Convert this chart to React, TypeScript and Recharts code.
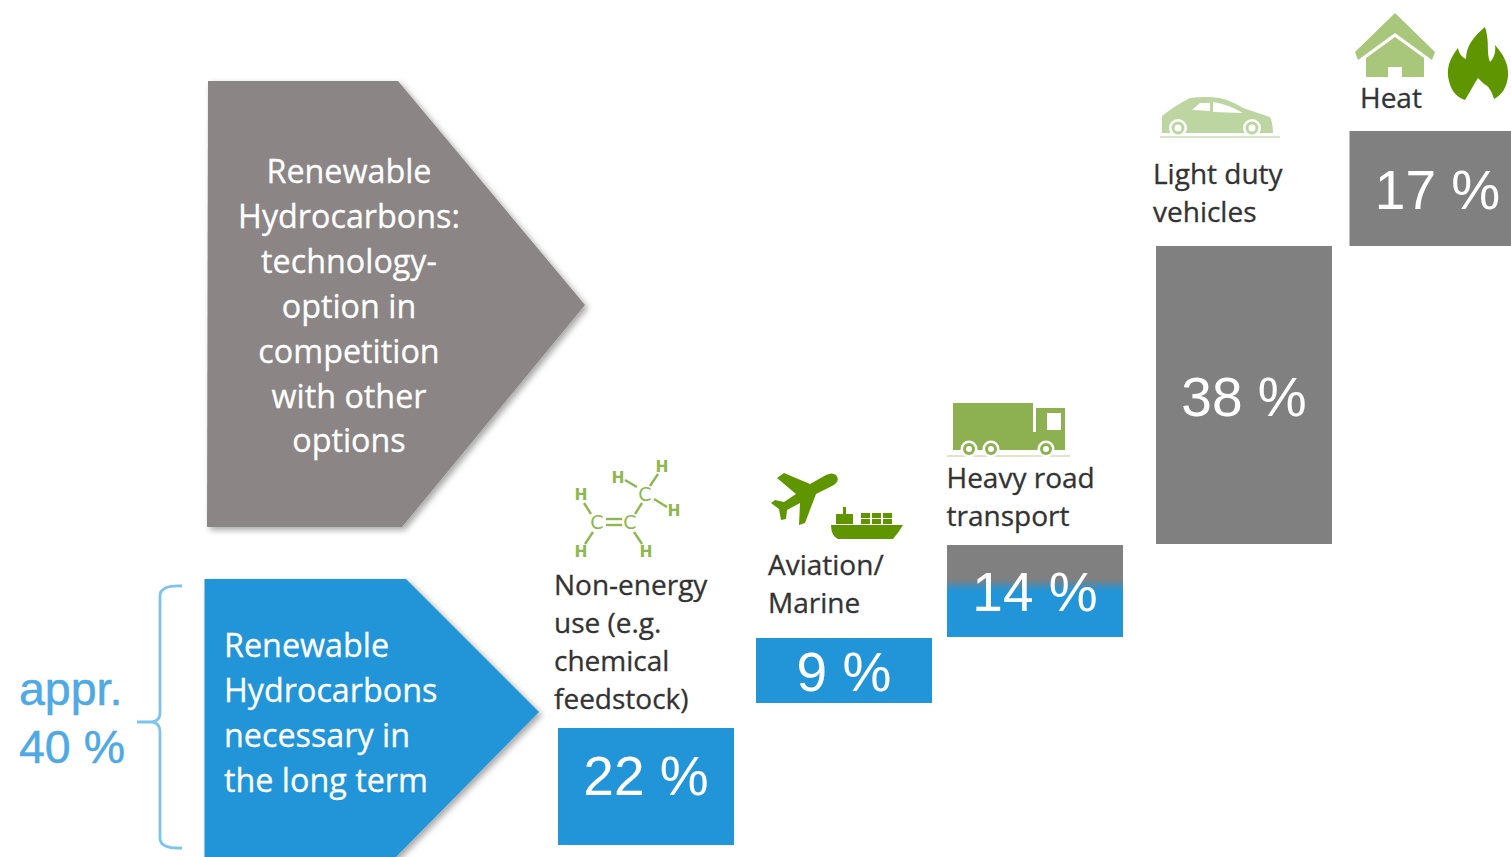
import { Bar, Cell, ComposedChart, LabelList, XAxis, YAxis } from 'recharts';

const categories = ['Non-energy use', 'Aviation/Marine', 'Heavy road transport', 'Light duty vehicles', 'Heat'];
const shares = [22, 9, 14, 38, 17];
// the steps in the source are not drawn to scale, so these are read off the picture
const stepBottom = [12, 154, 220, 313, 611];
const stepTop = [129, 219, 312, 611, 726];
const stepCenter = [645.5, 843.5, 1034.5, 1243.5, 1437];
const stepFill = ['#2295d9', '#2295d9', 'url(#mixedStep)', '#808080', '#808080'];
const labelShift = [8, 20, 20, 21, 20];

const data = categories.map((name, i) => ({
  name,
  center: stepCenter[i],
  range: [stepBottom[i], stepTop[i]],
  label: `${shares[i]} %`,
}));

const sans = '"Open Sans", sans-serif';
const arial = '"Liberation Sans", Arial, sans-serif';

const ShareLabel = (props: any) => {
  const { x, y, width, height, value, index } = props;
  return (
    <text x={x + width / 2} y={y + height / 2 + labelShift[index]} textAnchor="middle" fontFamily={arial} fontSize={55} fill="#fff">
      {value}
    </text>
  );
};

const Lines = ({ x, ys, lines, anchor = 'start', size = 28, fill = '#333' }: any) => (
  <>
    {lines.map((line: string, i: number) => (
      <text key={line} x={x} y={ys + i * (size > 30 ? 44.9 : 38.3)} textAnchor={anchor} fontFamily={sans} fontSize={size} fill={fill} stroke={fill} strokeWidth={0.3}>
        {line}
      </text>
    ))}
  </>
);

const Molecule = () => {
  const green = '#8db84f';
  const bonds = [
    [584, 503, 591, 514], [606, 519, 622, 519], [606, 525, 622, 525], [635, 514, 642, 503],
    [637, 487, 625, 480], [650, 486, 658, 474], [654, 499, 667, 507], [593, 532, 585, 544], [634, 532, 642, 544],
  ];
  const atoms = [
    ['H', 581, 500], ['H', 618, 483], ['H', 662, 472], ['H', 674, 516], ['H', 581, 557], ['H', 646, 557],
  ];
  const carbons = [[645, 501], [597, 529], [630, 529]];
  return (
    <g>
      {bonds.map((b, i) => (
        <line key={i} x1={b[0]} y1={b[1]} x2={b[2]} y2={b[3]} stroke={green} strokeWidth={2.4} />
      ))}
      {atoms.map((a, i) => (
        <text key={i} x={a[1] as number} y={a[2] as number} textAnchor="middle" fontFamily="DejaVu Sans" fontWeight="bold" fontSize={15.5} fill={green}>
          {a[0]}
        </text>
      ))}
      {carbons.map((c, i) => (
        <text key={i} x={c[0]} y={c[1]} textAnchor="middle" fontFamily="DejaVu Sans" fontSize={19} fill={green}>C</text>
      ))}
    </g>
  );
};

const Wheel = ({ cx, cy, color, r }: any) => (
  <g>
    <circle cx={cx} cy={cy} r={r + 2.5} fill="#fff" />
    <circle cx={cx} cy={cy} r={r} fill={color} />
    <circle cx={cx} cy={cy} r={r - 3} fill="#fff" />
  </g>
);

const Icons = () => (
  <g>
    <Molecule />
    {/* plane */}
    <path d="M836 475Q841 481 832 486L816 494 805 523 799 525 800 503 787 510 786 519 781 520 779 509 771 503 775 500 784 502 796 494 777 478 784 473 810 484 826 475Q832 472 836 475Z" fill="#5f9600" />
    {/* ship */}
    <path d="M831 525H903Q899 532 893 539H838Q831 536 831 525ZM836 514H843V507H846V514H853V524H836ZM861 513H870V518H861ZM872 513H881V518H872ZM883 513H892V518H883ZM861 519H870V524H861ZM872 519H881V524H872ZM883 519H892V524H883Z" fill="#5f9600" />
    {/* truck */}
    <path d="M953 403H1033V432H1036V408H1065V450H953Z" fill="#8db150" />
    <rect x={1047} y={413} width={14} height={17} fill="#fff" />
    <rect x={947} y={455} width={123} height={2} fill="#dbe8c6" />
    {[969, 991, 1046].map((cx) => (
      <Wheel key={cx} cx={cx} cy={449} r={6} color="#8db150" />
    ))}
    {/* car */}
    <path d="M1162 116Q1176 105 1190 98Q1205 96 1220 98Q1232 101 1243 108L1270 117Q1273 124 1273 133H1162Z" fill="#bdd6a1" />
    <path d="M1192 110L1200 103H1210V111ZM1213 102Q1230 105 1243 113L1213 112Z" fill="#fff" />
    {[1178, 1252].map((cx) => (
      <Wheel key={cx} cx={cx} cy={128} r={6.5} color="#bdd6a1" />
    ))}
    <rect x={1160} y={136} width={120} height={2} fill="#d6e5c4" />
    {/* house */}
    <path d="M1395 13L1435 52 1432 60 1395 33 1358 60 1355 52ZM1395 37L1424 58V77H1402V67H1388V77H1366V58Z" fill="#a9c77a" />
    {/* flame */}
    <path d="M1485 27C1490 42 1486 52 1490 62C1494 58 1496 52 1495 45C1503 54 1509 64 1508 76C1507 87 1502 95 1494 99C1492 92 1489 86 1484 84C1482 82 1480 80 1478 78C1474 84 1470 92 1465 100C1456 97 1450 90 1448 76C1447 64 1452 56 1458 48C1459 54 1462 57 1466 59C1466 46 1474 36 1485 27Z" fill="#5f9600" />
  </g>
);

const Overlay = () => (
  <svg width={1511} height={857} style={{ position: 'absolute', left: 0, top: 0 }}>
    <defs>
      <filter id="arrowShadow" x="-10%" y="-10%" width="120%" height="120%">
        <feDropShadow dx={3} dy={3} stdDeviation={3} floodColor="#000" floodOpacity={0.35} />
      </filter>
    </defs>
    <polygon points="208,81 398,81 585,305 402,527 207,527" fill="#8b8685" filter="url(#arrowShadow)" />
    <polygon points="204.5,579 406,579 539,712 393,860 204.5,860" fill="#2295d9" filter="url(#arrowShadow)" />
    <Lines x={349} ys={183} anchor="middle" size={32.3} fill="#fff" lines={['Renewable', 'Hydrocarbons:', 'technology-', 'option in', 'competition', 'with other', 'options']} />
    <Lines x={224} ys={657} size={32.3} fill="#fff" lines={['Renewable', 'Hydrocarbons', 'necessary in', 'the long term']} />
    <Lines x={554} ys={594.5} lines={['Non-energy', 'use (e.g.', 'chemical', 'feedstock)']} />
    <Lines x={768} ys={575} lines={['Aviation/', 'Marine']} />
    <Lines x={946.5} ys={488} lines={['Heavy road', 'transport']} />
    <Lines x={1153} ys={183.5} lines={['Light duty', 'vehicles']} />
    <Lines x={1360} ys={108} lines={['Heat']} />
    <path d="M182 586Q160 585 160 596V713Q160 721 152 722H137M152 722Q160 723 160 732V838Q160 849 182 848" fill="none" stroke="#7cc3ee" strokeWidth={2.8} />
    <text x={19} y={705} fontFamily={arial} fontSize={46.5} fill="#4fa9e3" stroke="#4fa9e3" strokeWidth={0.5}>appr.</text>
    <text x={19} y={763} fontFamily={arial} fontSize={46.5} fill="#4fa9e3" stroke="#4fa9e3" strokeWidth={0.5}>40 %</text>
    <Icons />
  </svg>
);

export default function App() {
  return (
    <div style={{ position: 'absolute', left: 0, top: 0, width: 1511, height: 857, overflow: 'hidden', background: '#fff' }}>
      <ComposedChart width={1511} height={857} data={data} margin={{ top: 0, right: 0, bottom: 0, left: 0 }}>
        <defs>
          <linearGradient id="mixedStep" x1="0" y1="0" x2="0" y2="1">
            <stop offset="0.37" stopColor="#808080" />
            <stop offset="0.5" stopColor="#2295d9" />
          </linearGradient>
        </defs>
        <XAxis dataKey="center" type="number" domain={[0, 1511]} hide />
        <YAxis type="number" domain={[0, 857]} hide />
        <Bar dataKey="range" barSize={176} isAnimationActive={false}>
          {data.map((d, i) => (
            <Cell key={d.name} fill={stepFill[i]} />
          ))}
          <LabelList dataKey="label" content={ShareLabel} />
        </Bar>
      </ComposedChart>
      <Overlay />
    </div>
  );
}
